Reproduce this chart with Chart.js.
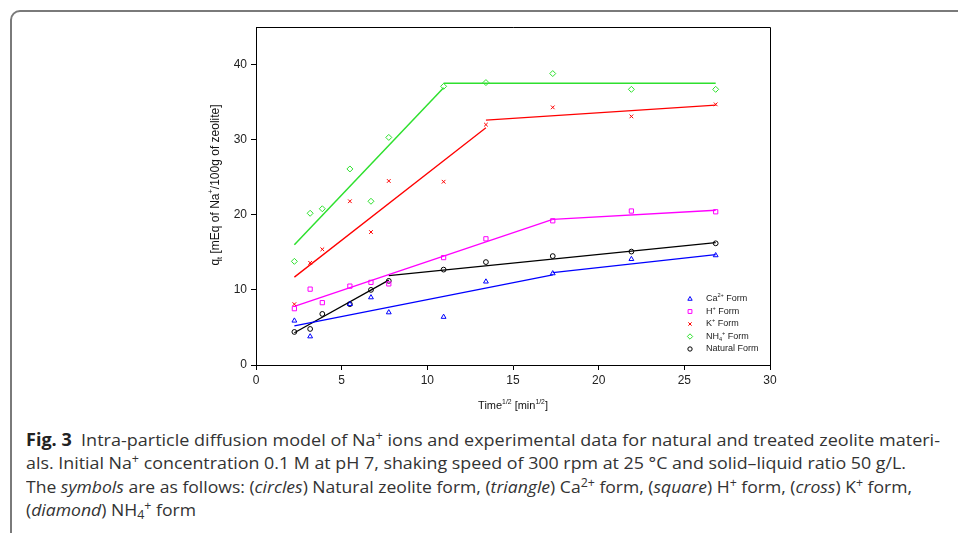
<!DOCTYPE html>
<html>
<head>
<meta charset="utf-8">
<script src="https://cdn.jsdelivr.net/npm/chart.js@4"></script>
<style>
  html, body { margin: 0; padding: 0; background: #fff; overflow: hidden; }
  body { width: 958px; height: 533px; position: relative; }
  #frame {
    position: absolute; left: 10px; top: 10px; width: 1000px; height: 600px;
    border: 2px solid #7a7a7a; border-top-left-radius: 10px; box-sizing: border-box;
  }
  #chart { position: absolute; left: 0; top: 0; }
  .cap {
    position: absolute; left: 26px; white-space: nowrap; transform-origin: 0 50%;
    font-family: "Open Sans", sans-serif; font-size: 17px; color: #333; line-height: 20px;
  }
  .cap b { color: #222; }
  .cap sup { font-size: 12px; line-height: 0; vertical-align: 6px; }
  .cap sub { font-size: 12px; line-height: 0; vertical-align: -3px; }
</style>
</head>
<body>
<div id="frame"></div>
<canvas id="chart" width="958" height="420"></canvas>
<div class="cap" data-w="914" style="top:430px"><b>Fig. 3</b>&nbsp; Intra-particle diffusion model of Na<sup>+</sup> ions and experimental data for natural and treated zeolite materi-</div>
<div class="cap" data-w="880" style="top:453px">als. Initial Na<sup>+</sup> concentration 0.1 M at pH 7, shaking speed of 300 rpm at 25 °C and solid–liquid ratio 50 g/L.</div>
<div class="cap" data-w="886" style="top:477px">The <i>symbols</i> are as follows: (<i>circles</i>) Natural zeolite form, (<i>triangle</i>) Ca<sup>2+</sup> form, (<i>square</i>) H<sup>+</sup> form, (<i>cross</i>) K<sup>+</sup> form,</div>
<div class="cap" data-w="170" style="top:500px">(<i>diamond</i>) NH<sub>4</sub><sup>+</sup> form</div>
<script>
// sqrt(t) sampling times
const timeX = [2.24, 3.16, 3.87, 5.48, 6.71, 7.75, 10.95, 13.42, 17.32, 21.91, 26.83];

// measured q_t per form
const caQ  = [5.9, 3.8, null, 8.1, 9.0, 7.0, 6.4, 11.1, 12.2, 14.1, 14.6];
const hQ   = [7.5, 10.1, 8.3, 10.5, 11.0, 10.8, 14.3, 16.8, 19.2, 20.5, 20.4];
const kQ   = [8.1, 13.6, 15.4, 21.8, 17.7, 24.5, 24.4, 32.0, 34.3, 33.1, 34.7];
const nh4Q = [13.8, 20.2, 20.8, 26.1, 21.8, 30.3, 37.1, 37.6, 38.8, 36.7, 36.7];
const natQ = [4.4, 4.8, 6.8, 8.1, 10.0, 11.2, 12.7, 13.7, 14.5, 15.1, 16.2];

// intra-particle diffusion fits, two segments each (break after index 1)
const caFitX  = [2.24, 17.32, 17.32, 26.83];
const caFitY  = [5.2, 12.0, 12.3, 14.7];
const hFitX   = [2.24, 17.32, 17.32, 26.83];
const hFitY   = [7.8, 19.4, 19.4, 20.6];
const kFitX   = [2.24, 13.42, 13.42, 26.83];
const kFitY   = [11.7, 31.6, 32.6, 34.6];
const nh4FitX = [2.24, 10.95, 10.95, 26.83];
const nh4FitY = [16.0, 36.9, 37.5, 37.5];
const natFitX = [2.24, 7.75, 7.75, 26.83];
const natFitY = [4.3, 11.3, 11.9, 16.3];

const legendLabels = ['Ca^{2+} Form', 'H^{+} Form', 'K^{+} Form', 'NH_{4}^{+} Form', 'Natural Form'];
const xTicks = [0, 5, 10, 15, 20, 25, 30];
const yTicks = [0, 10, 20, 30, 40];

const pts = (xs, ys) => xs.map((x, i) => ({ x: x, y: ys[i] })).filter(p => p.y !== null);

function pointSet(label, ys, color, style, radius) {
  return {
    label: label, data: pts(timeX, ys), showLine: false,
    pointStyle: style, pointRadius: radius, pointBorderWidth: 1,
    borderColor: color, backgroundColor: 'rgba(0,0,0,0)', order: 1
  };
}
function fitSet(xs, ys, color, width) {
  return {
    data: pts(xs, ys), showLine: true, pointRadius: 0, borderColor: color,
    borderWidth: width, fill: false, tension: 0, order: 2,
    segment: { borderColor: c => c.p0DataIndex === 1 ? 'rgba(0,0,0,0)' : color }
  };
}

const colors = ['#0000ff', '#ff00ff', '#ff0000', '#2ee02e', '#000000'];
const styles = ['triangle', 'rect', 'crossRot', 'rectRot', 'circle'];
const radii = [2.8, 3, 2.6, 3, 2.4];

// draw text with ^{} and _{} markup
function parseRich(s) {
  const parts = [];
  const re = /(\^\{[^}]*\}|_\{[^}]*\})/g;
  let last = 0, m;
  while ((m = re.exec(s)) !== null) {
    if (m.index > last) parts.push({ t: s.slice(last, m.index), k: '' });
    parts.push({ t: m[0].slice(2, -1), k: m[0][0] === '^' ? 'sup' : 'sub' });
    last = re.lastIndex;
  }
  if (last < s.length) parts.push({ t: s.slice(last), k: '' });
  return parts;
}
function drawRich(ctx, s, x, y, size, align) {
  const parts = parseRich(s);
  const small = size * 0.62;
  let total = 0;
  parts.forEach(p => {
    ctx.font = (p.k ? small : size) + 'px "Liberation Sans", Arial, sans-serif';
    p.w = ctx.measureText(p.t).width;
    total += p.w;
  });
  let cx = align === 'center' ? x - total / 2 : x;
  ctx.textBaseline = 'middle';
  ctx.textAlign = 'left';
  parts.forEach(p => {
    ctx.font = (p.k ? small : size) + 'px "Liberation Sans", Arial, sans-serif';
    const dy = p.k === 'sup' ? -size * 0.38 : p.k === 'sub' ? size * 0.3 : 0;
    ctx.fillText(p.t, cx, y + dy);
    cx += p.w;
  });
}

const decor = {
  id: 'decor',
  afterDraw(chart) {
    const ctx = chart.ctx, a = chart.chartArea;
    ctx.save();
    ctx.strokeStyle = '#000';
    ctx.lineWidth = 1;
    ctx.beginPath();
    ctx.moveTo(a.left, a.top + 0.5);
    ctx.lineTo(a.right + 0.5, a.top + 0.5);
    ctx.lineTo(a.right + 0.5, a.bottom);
    ctx.stroke();

    ctx.fillStyle = '#111';
    // axis titles
    drawRich(ctx, 'Time^{1/2} [min^{1/2}]', (a.left + a.right) / 2, 406, 11, 'center');
    ctx.save();
    ctx.translate(216, 185);
    ctx.rotate(-Math.PI / 2);
    ctx.fillStyle = '#111';
    drawRich(ctx, 'q_{t} [mEq of Na^{+}/100g of zeolite]', 0, 0, 12, 'center');
    ctx.restore();

    // legend inside plot area
    const lx = a.right - 80, ly = a.bottom - 66;
    legendLabels.forEach((lab, i) => {
      const y = ly + i * 12.5;
      ctx.strokeStyle = colors[i];
      ctx.fillStyle = 'rgba(0,0,0,0)';
      ctx.lineWidth = 1;
      Chart.helpers.drawPoint(ctx, { pointStyle: styles[i], radius: radii[i] * 0.9, borderWidth: 1 }, lx, y);
      ctx.fillStyle = '#222';
      drawRich(ctx, lab, lx + 16, y, 9, 'left');
    });
    ctx.restore();
  }
};

const datasets = [
  pointSet(legendLabels[0], caQ, colors[0], styles[0], radii[0]),
  pointSet(legendLabels[1], hQ, colors[1], styles[1], radii[1]),
  pointSet(legendLabels[2], kQ, colors[2], styles[2], radii[2]),
  pointSet(legendLabels[3], nh4Q, colors[3], styles[3], radii[3]),
  pointSet(legendLabels[4], natQ, colors[4], styles[4], radii[4]),
  fitSet(caFitX, caFitY, colors[0], 1.3),
  fitSet(hFitX, hFitY, colors[1], 1.3),
  fitSet(kFitX, kFitY, colors[2], 1.3),
  fitSet(nh4FitX, nh4FitY, colors[3], 1.5),
  fitSet(natFitX, natFitY, colors[4], 1.3)
];

const tickFont = { family: '"Liberation Sans", Arial, sans-serif', size: 12 };

new Chart(document.getElementById('chart').getContext('2d'), {
  type: 'scatter',
  data: { datasets: datasets },
  options: {
    responsive: false,
    animation: false,
    layout: { padding: { left: 0, top: 27, right: 188, bottom: 0 } },
    plugins: { legend: { display: false }, tooltip: { enabled: false } },
    scales: {
      x: {
        type: 'linear', min: 0, max: 30,
        afterBuildTicks: s => { s.ticks = xTicks.map(v => ({ value: v })); },
        afterFit: s => { s.height = 55; },
        grid: { drawOnChartArea: false, drawTicks: true, tickLength: 5, tickColor: '#000' },
        border: { color: '#000', width: 1 },
        ticks: { color: '#222', font: tickFont, padding: 3, maxRotation: 0 }
      },
      y: {
        type: 'linear', min: 0, max: 45,
        afterBuildTicks: s => { s.ticks = yTicks.map(v => ({ value: v })); },
        afterFit: s => { s.width = 256; },
        grid: { drawOnChartArea: false, drawTicks: true, tickLength: 5, tickColor: '#000' },
        border: { color: '#000', width: 1 },
        ticks: { color: '#222', font: tickFont, padding: 4 }
      }
    }
  },
  plugins: [decor]
});

// fit caption lines to their widths in the figure
document.querySelectorAll('.cap').forEach(el => {
  const target = parseFloat(el.dataset.w);
  const w = el.getBoundingClientRect().width;
  el.style.transform = 'scaleX(' + (target / w).toFixed(4) + ')';
});
</script>
</body>
</html>
